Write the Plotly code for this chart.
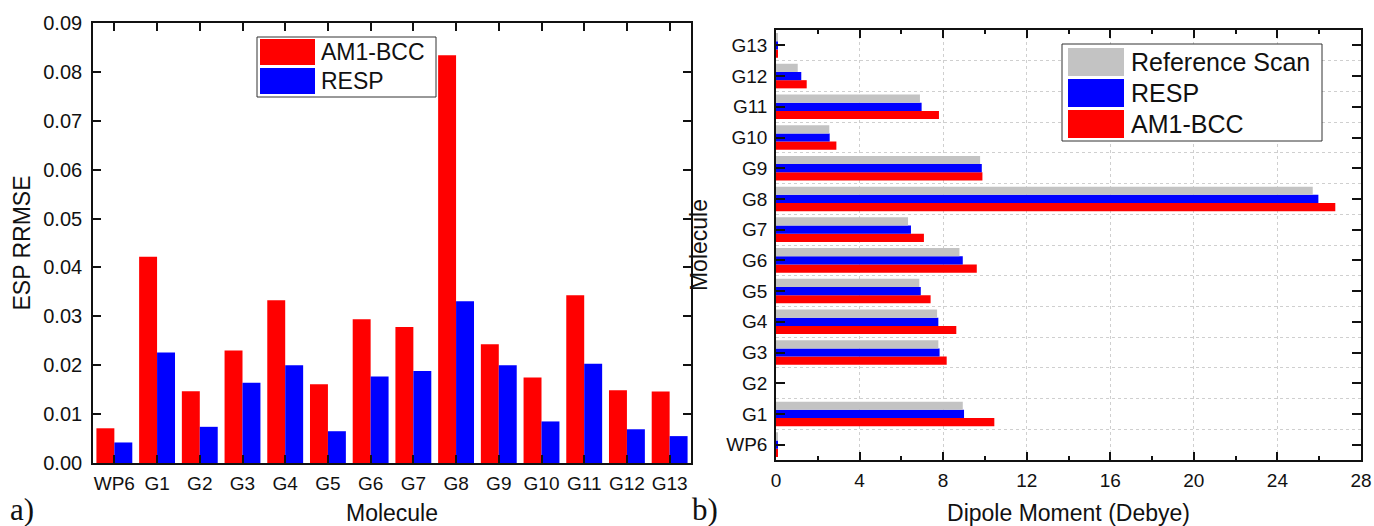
import numpy as np
import plotly.graph_objects as go

# ---------------- data ----------------
molecules = ["WP6", "G1", "G2", "G3", "G4", "G5", "G6", "G7",
             "G8", "G9", "G10", "G11", "G12", "G13"]

esp_am1bcc = [0.0071, 0.0422, 0.0147, 0.0230, 0.0333, 0.0161, 0.0294,
              0.0278, 0.0834, 0.0243, 0.0175, 0.0343, 0.0149, 0.0146]
esp_resp = [0.0042, 0.0226, 0.0074, 0.0164, 0.0200, 0.0065, 0.0177,
            0.0188, 0.0331, 0.0200, 0.0085, 0.0203, 0.0069, 0.0055]

dipole_ref = [0.05, 8.94, 0.0, 7.77, 7.71, 6.86, 8.78, 6.32, 25.69,
              9.77, 2.55, 6.89, 1.04, 0.05]
dipole_resp = [0.08, 9.00, 0.0, 7.83, 7.77, 6.93, 8.94, 6.46, 25.96,
               9.85, 2.57, 6.97, 1.21, 0.08]
dipole_am1bcc = [0.08, 10.45, 0.0, 8.17, 8.63, 7.40, 9.61, 7.08, 26.77,
                 9.88, 2.89, 7.80, 1.47, 0.08]

esp_ticks = [0.00, 0.01, 0.02, 0.03, 0.04, 0.05, 0.06, 0.07, 0.08, 0.09]
dipole_ticks = [0, 4, 8, 12, 16, 20, 24, 28]

legend_a = ["AM1-BCC", "RESP"]
legend_b = ["Reference Scan", "RESP", "AM1-BCC"]

RED = "#FF0000"
BLUE = "#0000FF"
GRAY = "#C3C3C3"
FONT = "Liberation Sans, Arial, sans-serif"
TXT = "#111111"
W, H = 1374, 526

mol_pos = list(range(len(molecules)))
colors = {"AM1-BCC": RED, "RESP": BLUE, "Reference Scan": GRAY}

fig = go.Figure()

# ---------------- panel a ----------------
fig.add_trace(go.Bar(x=molecules, y=esp_am1bcc, name="AM1-BCC",
                     marker=dict(color=RED, line=dict(width=0)),
                     width=0.42, offset=-0.42, showlegend=False,
                     xaxis="x", yaxis="y"))
fig.add_trace(go.Bar(x=molecules, y=esp_resp, name="RESP",
                     marker=dict(color=BLUE, line=dict(width=0)),
                     width=0.42, offset=0.0, showlegend=False,
                     xaxis="x", yaxis="y"))

# ---------------- panel b ----------------
bw = 0.267
fig.add_trace(go.Bar(y=mol_pos, x=dipole_am1bcc, name="AM1-BCC", orientation="h",
                     marker=dict(color=RED, line=dict(width=0)),
                     width=bw, offset=-1.5 * bw, showlegend=False,
                     xaxis="x2", yaxis="y2"))
fig.add_trace(go.Bar(y=mol_pos, x=dipole_resp, name="RESP", orientation="h",
                     marker=dict(color=BLUE, line=dict(width=0)),
                     width=bw, offset=-0.5 * bw, showlegend=False,
                     xaxis="x2", yaxis="y2"))
fig.add_trace(go.Bar(y=mol_pos, x=dipole_ref, name="Reference Scan", orientation="h",
                     marker=dict(color=GRAY, line=dict(width=0)),
                     width=bw, offset=0.5 * bw, showlegend=False,
                     xaxis="x2", yaxis="y2"))

axis_common = dict(showline=True, linecolor="#111", linewidth=1.6, mirror="allticks",
                   ticks="inside", tickcolor="#111", tickwidth=1.6,
                   zeroline=False, automargin=False)


def title_font(size=23):
    return dict(family=FONT, size=size, color=TXT)


# ---------------- legend boxes (drawn as shapes + text) ----------------
shapes = []
annotations = []


def px_x(v):
    return v / W


def px_y(v):
    return 1 - v / H


def add_legend(names, box, sw_x, first_top, pitch, sw_h, text_x, fsize):
    x0, y0, x1, y1 = box
    shapes.append(dict(type="rect", xref="paper", yref="paper",
                       x0=px_x(x0), x1=px_x(x1), y0=px_y(y0), y1=px_y(y1),
                       fillcolor="white", line=dict(color="#333", width=1), layer="above"))
    for i, nm in enumerate(names):
        top = first_top + i * pitch
        shapes.append(dict(type="rect", xref="paper", yref="paper",
                           x0=px_x(sw_x[0]), x1=px_x(sw_x[1]),
                           y0=px_y(top + sw_h), y1=px_y(top),
                           fillcolor=colors[nm], line=dict(width=0), layer="above"))
        annotations.append(dict(text=nm, x=px_x(text_x), y=px_y(top + sw_h / 2),
                                xref="paper", yref="paper", xanchor="left", yanchor="middle",
                                showarrow=False, font=title_font(fsize)))


add_legend(legend_a, (257, 37, 436, 97), (260, 315), 39, 29, 26, 319, 23)
add_legend(legend_b, (1062, 44, 1322, 141), (1068, 1124), 48, 31, 28, 1129, 25)

for lbl, xpix in (("a)", 8), ("b)", 690)):
    annotations.append(dict(text=lbl, x=px_x(xpix), y=px_y(509), xref="paper", yref="paper",
                            xanchor="left", yanchor="middle", showarrow=False,
                            font=dict(family="Liberation Serif, Times New Roman, serif",
                                      size=31, color="#111")))

fig.update_layout(
    width=W, height=H,
    margin=dict(l=0, r=0, t=0, b=0),
    paper_bgcolor="white", plot_bgcolor="white",
    barmode="overlay", showlegend=False,
    font=dict(family=FONT, color=TXT),
    xaxis=dict(domain=[93 / W, 691 / W], anchor="y", type="category",
               ticklen=8, showgrid=False, ticklabelstandoff=2,
               tickfont=dict(family=FONT, size=19, color=TXT),
               title=dict(text="Molecule", font=title_font(), standoff=20),
               **axis_common),
    yaxis=dict(domain=[1 - 463 / H, 1 - 23 / H], anchor="x", range=[0, 0.09],
               tickmode="array", tickvals=esp_ticks, tickformat=".2f",
               ticklen=8, showgrid=False, ticklabelstandoff=5,
               tickfont=dict(family=FONT, size=20, color=TXT),
               title=dict(text="ESP RRMSE", font=title_font(), standoff=6),
               **axis_common),
    xaxis2=dict(domain=[776 / W, 1361 / W], anchor="y2", range=[0, 28],
                tickmode="array", tickvals=dipole_ticks, ticklen=8, ticklabelstandoff=2,
                tickfont=dict(family=FONT, size=19, color=TXT),
                showgrid=True, gridcolor="#cfcfcf", griddash="dot", gridwidth=1,
                minor=dict(dtick=2, tick0=0, ticks="inside", ticklen=4, tickcolor="#111",
                           showgrid=False),
                title=dict(text="Dipole Moment (Debye)", font=title_font(), standoff=18),
                **axis_common),
    yaxis2=dict(domain=[1 - 460 / H, 1 - 30 / H], anchor="x2",
                range=[-0.5, len(molecules) - 0.5],
                tickmode="array", tickvals=mol_pos, ticktext=molecules, ticklen=9,
                ticklabelstandoff=3,
                tickfont=dict(family=FONT, size=19, color=TXT),
                showgrid=False,
                minor=dict(tickmode="array",
                           tickvals=[p + 0.5 for p in mol_pos[:-1]],
                           ticks="", showgrid=True, gridcolor="#cfcfcf",
                           griddash="dot", gridwidth=1),
                title=dict(text="Molecule", font=title_font(), standoff=12),
                **axis_common),
    shapes=shapes,
    annotations=annotations,
)

fig.write_html("out.html")
